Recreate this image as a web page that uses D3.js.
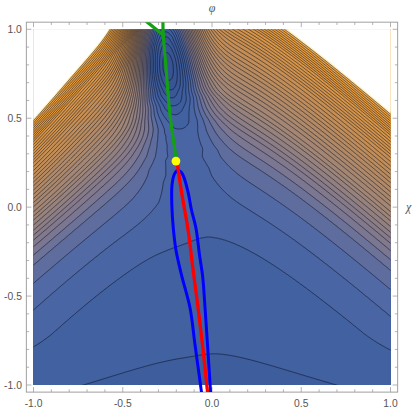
<!DOCTYPE html>
<html>
<head>
<meta charset="utf-8">
<script src="https://cdn.jsdelivr.net/npm/d3@7"></script>
<style>
  body { margin: 0; background: #fff; }
  svg { display: block; }
</style>
</head>
<body>
<div id="viz"></div>
<script>
const WIDTH = 415;
const HEIGHT = 413;
const PLOT = { left: 33.5, right: 390.5, top: 29.3, bottom: 385 };
const PAD = 0.04;

const MAJOR_TICKS = [-1, -0.5, 0, 0.5, 1];
const TICK_LABELS = ["-1.0", "-0.5", "0.0", "0.5", "1.0"];
const MINOR_TICKS = d3.range(-10, 11).map(d => d / 10);

// contour crossings read along the left edge (x = -1): level index -> y
const LEFT_EDGE_LEVELS = [1, 2, 3, 4, 5, 6, 7, 8, 9, 10, 11, 12, 13, 14, 19, 25, 32, 41];
const LEFT_EDGE_Y = [-0.785, -0.578, -0.428, -0.325, -0.269, -0.222, -0.185, -0.157, -0.129,
  -0.100, -0.072, -0.050, -0.026, 0.003, 0.12, 0.25, 0.37, 0.487];
// lowest arch (level 0) meets the bottom edge here
const ARCH_B_POINT = [-0.72, -1];
// the clipped (white) region meets the left edge here
const WHITE_EDGE_POINT = [-1, 0.5];

// level along the valley floor: arch crossing, saddle, minimum, top edge
const VALLEY_Y = [-0.22, 0.259, 0.79, 1.0];
const VALLEY_LEVEL = [1, 1.6, -4.5, -0.3];

const RED_PATH = [[-0.196, 0.254], [-0.168, 0.069], [-0.134, -0.128], [-0.106, -0.353],
  [-0.078, -0.567], [-0.050, -0.803], [-0.025, -1.039]];
const GREEN_PATH = [[-0.199, 0.265], [-0.235, 0.518], [-0.258, 0.788], [-0.273, 0.968], [-0.275, 1.043]];
const GREEN_BRANCH = [[-0.273, 0.968], [-0.366, 1.043]];
const BLUE_PATH = [[-0.059, -1.039], [-0.095, -0.775], [-0.123, -0.567], [-0.171, -0.381],
  [-0.202, -0.241], [-0.217, -0.117], [-0.225, 0.012], [-0.224, 0.125], [-0.210, 0.187],
  [-0.193, 0.206], [-0.174, 0.198], [-0.160, 0.175], [-0.134, 0.085], [-0.115, -0.016],
  [-0.090, -0.117], [-0.070, -0.269], [-0.052, -0.393], [-0.039, -0.567], [-0.025, -0.775],
  [-0.008, -1.039]];
const SADDLE_POINT = [-0.202, 0.259];

const COLOR_STOPS = [0, 0.1, 0.15, 0.22, 0.35, 0.6, 0.9, 0.97, 1];
const COLOR_VALUES = ["#36528f", "#3f5f9f", "#4f68a6", "#7d7790", "#9e8578", "#c48e55",
  "#e89c3c", "#f0a84a", "#fff2c0"];

const x = d3.scaleLinear().domain([-1, 1]).range([PLOT.left, PLOT.right]);
const y = d3.scaleLinear().domain([-1, 1]).range([PLOT.bottom, PLOT.top]);
const color = d3.scaleLinear().domain(COLOR_STOPS).range(COLOR_VALUES).clamp(true);

// ---- field model -------------------------------------------------------
const sigm = z => 1 / (1 + Math.exp(-z));
const smoothstep = (a, b, v) => {
  const t = Math.max(0, Math.min(1, (v - a) / (b - a)));
  return t * t * (3 - 2 * t);
};

// broad V-shaped background, centred a little left of zero
function farField(px, py) {
  const u = px - (-0.105 - 0.06 * py);
  const side = Math.tanh(u / 0.08);
  const sL = 1 + 0.3 * sigm(py / 0.25), sR = 0.95;
  const eL = 0.36 + 0.08 * sigm(-py / 0.2), eR = 0.42;
  const s = (sL + sR) / 2 + (sR - sL) / 2 * side;
  const e = (eL + eR) / 2 + (eR - eL) / 2 * side;
  const g = py - 3 * Math.max(0, -0.7 - py) ** 2;
  return g + s * Math.sqrt(u * u + e * e);
}

const anchorF = [farField(...ARCH_B_POINT)].concat(LEFT_EDGE_Y.map(v => farField(-1, v)));
const anchorN = [0].concat(LEFT_EDGE_LEVELS);
const levelOf = d3.scaleLinear().domain(anchorF).range(anchorN);
const baseLevel = (px, py) => levelOf(farField(px, py));

const valleyPts = RED_PATH.slice().reverse().concat(GREEN_PATH);
const valleyX = d3.scaleLinear().domain(valleyPts.map(d => d[1])).range(valleyPts.map(d => d[0]));

function valleyLevel(py) {
  const [yA, yS, yM, yT] = VALLEY_Y;
  const [nA, nS, nM, nT] = VALLEY_LEVEL;
  if (py <= yS) return nS - (nS - nA) * ((py - yS) / (yA - yS)) ** 2;
  if (py <= yM) return nS - (nS - nM) * Math.sin(Math.PI / 2 * (py - yS) / (yM - yS)) ** 4;
  return nM + (nT - nM) * ((py - yM) / (yT - yM)) ** 2;
}
// trough is wider round the saddle, a little tighter round the minimum
const troughWidth = py => 0.16 - 0.03 * smoothstep(0.35, 0.75, py);

// ---- sample grid -------------------------------------------------------
const NG = 370;
const G0 = -1 - 0.02, G1 = 1 + 0.02;
const step = (G1 - G0) / (NG - 1);
const values = new Float64Array(NG * NG);
let vmin = Infinity;
for (let j = 0; j < NG; j++) {
  const py = G1 - j * step;
  const cx = valleyX(py);
  const w2 = 2 * troughWidth(py) ** 2;
  const depth = smoothstep(-0.45, -0.05, py) * Math.max(0, baseLevel(cx, py) - valleyLevel(py));
  for (let i = 0; i < NG; i++) {
    const px = G0 + i * step;
    const v = baseLevel(px, py) - depth * Math.exp(-((px - cx) ** 2) / w2);
    values[j * NG + i] = v;
    if (Math.abs(px) <= 1 && Math.abs(py) <= 1 && v < vmin) vmin = v;
  }
}
const nWhite = baseLevel(...WHITE_EDGE_POINT);
const levels = d3.range(Math.ceil(vmin), Math.floor(nWhite - 1e-6) + 1);
const tOf = v => (v - vmin) / (nWhite - vmin);

// ---- drawing -----------------------------------------------------------
const svg = d3.select("#viz").append("svg").attr("width", WIDTH).attr("height", HEIGHT);
const defs = svg.append("defs");
defs.append("clipPath").attr("id", "data-clip").append("rect")
  .attr("x", x(-1)).attr("y", y(1)).attr("width", x(1) - x(-1)).attr("height", y(-1) - y(1));
defs.append("clipPath").attr("id", "frame-clip").append("rect")
  .attr("x", x(-1 - PAD)).attr("y", y(1 + PAD))
  .attr("width", x(1 + PAD) - x(-1 - PAD)).attr("height", y(-1 - PAD) - y(1 + PAD));

const gridToPixel = d3.geoTransform({
  point(cx, cy) {
    this.stream.point(x(G0 + (cx - 0.5) * step), y(G1 - (cy - 0.5) * step));
  }
});
const path = d3.geoPath(gridToPixel);
const contours = d3.contours().size([NG, NG]);

const field = svg.append("g").attr("clip-path", "url(#data-clip)");
field.append("rect")
  .attr("x", x(-1)).attr("y", y(1)).attr("width", x(1) - x(-1)).attr("height", y(-1) - y(1))
  .attr("fill", color(tOf((vmin + levels[0]) / 2)));

const bandGeoms = levels.map(L => contours.contour(values, L));
bandGeoms.forEach((geom, k) => {
  const next = k < levels.length - 1 ? levels[k + 1] : nWhite;
  const t = k < levels.length - 1 ? tOf((levels[k] + next) / 2) : 1;
  field.append("path").attr("d", path(geom)).attr("fill", color(t));
});
field.append("path").attr("d", path(contours.contour(values, nWhite))).attr("fill", "#fff");
bandGeoms.forEach(geom => {
  field.append("path").attr("d", path(geom))
    .attr("fill", "none").attr("stroke", "#0a0f1e").attr("stroke-opacity", 0.6).attr("stroke-width", 0.9);
});

// frame and ticks
const fx0 = x(-1 - PAD), fx1 = x(1 + PAD), fy0 = y(1 + PAD), fy1 = y(-1 - PAD);
const axisColor = "#a0a0a0";
svg.append("rect").attr("x", fx0).attr("y", fy0).attr("width", fx1 - fx0).attr("height", fy1 - fy0)
  .attr("fill", "none").attr("stroke", axisColor).attr("stroke-width", 1);
const ticks = svg.append("g").attr("stroke", axisColor).attr("stroke-width", 0.8);
MINOR_TICKS.forEach(v => {
  const major = MAJOR_TICKS.some(m => Math.abs(m - v) < 1e-9);
  const len = major ? 5 : 2.8;
  ticks.append("line").attr("x1", x(v)).attr("x2", x(v)).attr("y1", fy1).attr("y2", fy1 - len);
  ticks.append("line").attr("x1", x(v)).attr("x2", x(v)).attr("y1", fy0).attr("y2", fy0 + len);
  ticks.append("line").attr("y1", y(v)).attr("y2", y(v)).attr("x1", fx0).attr("x2", fx0 + len);
  ticks.append("line").attr("y1", y(v)).attr("y2", y(v)).attr("x1", fx1).attr("x2", fx1 - len);
});
const labelFont = "'Liberation Sans', Arial, sans-serif";
MAJOR_TICKS.forEach((v, i) => {
  svg.append("text").attr("x", x(v)).attr("y", 407).attr("text-anchor", "middle")
    .attr("font-family", labelFont).attr("font-size", 10.3).attr("fill", "#555").text(TICK_LABELS[i]);
  svg.append("text").attr("x", fx0 - 4.5).attr("y", y(v) + 3.7).attr("text-anchor", "end")
    .attr("font-family", labelFont).attr("font-size", 10.3).attr("fill", "#555").text(TICK_LABELS[i]);
});

// overlay curves
const curves = svg.append("g").attr("clip-path", "url(#frame-clip)").attr("fill", "none")
  .attr("stroke-linecap", "round").attr("stroke-linejoin", "round");
const line = d3.line().x(d => x(d[0])).y(d => y(d[1])).curve(d3.curveCatmullRom);
curves.append("path").attr("d", line(BLUE_PATH)).attr("stroke", "#0000ff").attr("stroke-width", 3);
curves.append("path").attr("d", line(RED_PATH)).attr("stroke", "#ff0000").attr("stroke-width", 3.3);
curves.append("path").attr("d", line(GREEN_PATH)).attr("stroke", "#14a014").attr("stroke-width", 3.2);
curves.append("path").attr("d", line(GREEN_BRANCH)).attr("stroke", "#14a014").attr("stroke-width", 3.2);
svg.append("circle").attr("cx", x(SADDLE_POINT[0])).attr("cy", y(SADDLE_POINT[1])).attr("r", 4.4)
  .attr("fill", "#ffff00");

// axis labels
svg.append("text").attr("x", x(0)).attr("y", 12).attr("text-anchor", "middle")
  .attr("font-family", "'Liberation Serif', serif").attr("font-style", "italic")
  .attr("font-size", 12).attr("fill", "#555").text("φ");
svg.append("text").attr("x", 406).attr("y", y(0) + 4).attr("text-anchor", "start")
  .attr("font-family", "'Liberation Serif', serif").attr("font-style", "italic")
  .attr("font-size", 12).attr("fill", "#555").text("χ");
</script>
</body>
</html>
